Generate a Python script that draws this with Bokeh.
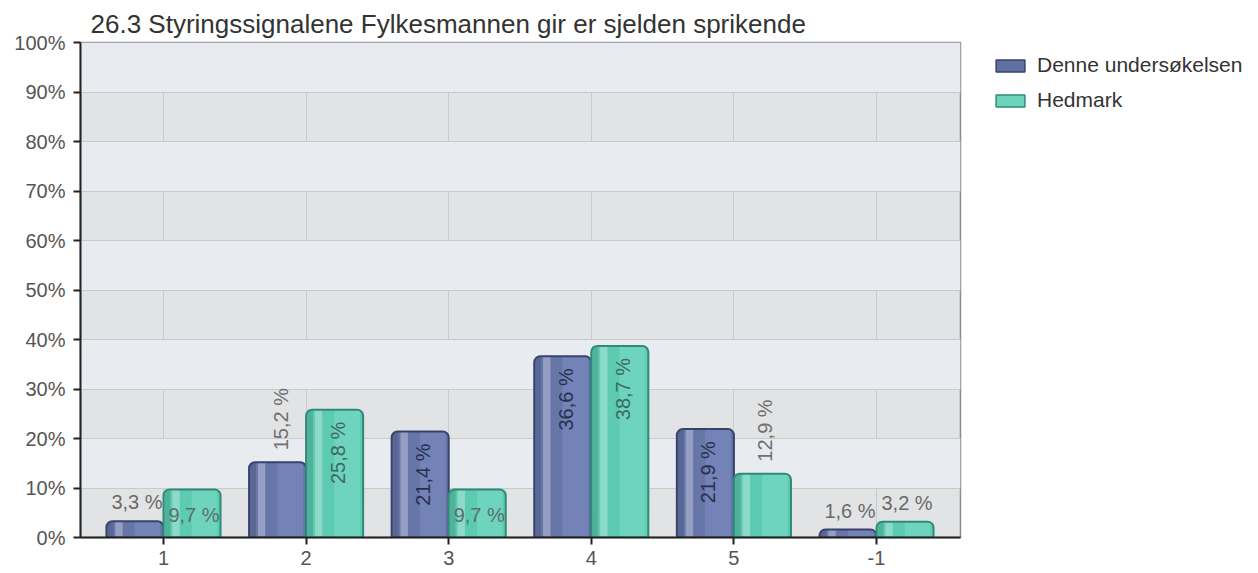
import math
from bokeh.plotting import figure
from bokeh.layouts import row
from bokeh.models import ColumnDataSource, FixedTicker, PrintfTickFormatter, Legend, LegendItem, Range1d
from bokeh.transform import dodge
from bokeh.core.properties import value
from bokeh.embed import file_html
from bokeh.resources import INLINE

# ---------------- data ----------------
title_text = "26.3 Styringssignalene Fylkesmannen gir er sjelden sprikende"
categories = ["1", "2", "3", "4", "5", "-1"]
denne = [3.3, 15.2, 21.4, 36.6, 21.9, 1.6]
hedmark = [9.7, 25.8, 9.7, 38.7, 12.9, 3.2]
series_names = ["Denne undersøkelsen", "Hedmark"]
y_ticks = [0, 10, 20, 30, 40, 50, 60, 70, 80, 90, 100]

FONT = "Liberation Sans"

p = figure(width=962, height=573, output_backend="svg", toolbar_location=None,
           x_range=Range1d(-0.582, 5.589), y_range=Range1d(0, 100),
           min_border_left=80, min_border_right=2, min_border_top=42, min_border_bottom=36,
           title=title_text)

p.title.text_font = FONT
p.title.text_font_size = "26px"
p.title.text_font_style = "normal"
p.title.text_color = "#333333"
p.title.offset = 10
p.title.standoff = 7

p.background_fill_color = "#e2e3e4"
p.border_fill_color = "white"
p.outline_line_color = "#8c8c8c"
p.outline_line_width = 1.5

# grid
p.xgrid.ticker = FixedTicker(ticks=list(range(len(categories))))
p.ygrid.ticker = FixedTicker(ticks=y_ticks)
p.xgrid.grid_line_color = "#c8cbce"
p.ygrid.grid_line_color = "#c8cbce"
p.ygrid.band_fill_color = "#e8ebef"
p.ygrid.band_fill_alpha = 1.0

# axes
p.xaxis.ticker = FixedTicker(ticks=list(range(len(categories))))
p.xaxis.major_label_overrides = {i: c for i, c in enumerate(categories)}
p.yaxis.ticker = FixedTicker(ticks=y_ticks)
p.yaxis.formatter = PrintfTickFormatter(format="%d%%")
for ax in (p.xaxis[0], p.yaxis[0]):
    ax.axis_line_color = "#222222"
    ax.axis_line_width = 2
    ax.major_tick_line_color = "#222222"
    ax.major_tick_line_width = 2
    ax.major_tick_out = 7
    ax.major_tick_in = 0
    ax.minor_tick_line_color = None
    ax.major_label_text_font = FONT
    ax.major_label_text_font_size = "20px"
    ax.major_label_text_color = "#555555"
p.yaxis.major_label_standoff = 8
p.xaxis.major_label_standoff = 6

# legend figure (right side)
pl = figure(width=296, height=573, output_backend="svg", toolbar_location=None,
            x_range=Range1d(0, 1), y_range=Range1d(0, 1), min_border=0)
pl.axis.visible = False
pl.grid.visible = False
pl.outline_line_color = None
pl.background_fill_color = "white"
pl.border_fill_color = "white"

# ---------------- bars ----------------
idx = list(range(len(categories)))
bar_w = 0.4
series = [
    dict(vals=denne, off=-0.2, fill="#6676a9", line="#38436b", light="#8b9ad0",
         swatch="#62709f", inside="#28304d"),
    dict(vals=hedmark, off=0.2, fill="#5ccbb1", line="#2e8b78", light="#8ee6d3",
         swatch="#6cd4bb", inside="#3c6a61"),
]

legend_items = []
for s, name in zip(series, series_names):
    src = ColumnDataSource(dict(x=idx, top=s["vals"]))
    p.vbar(x=dodge("x", s["off"], range=p.x_range), top="top", bottom=0, width=bar_w,
           source=src, fill_color=s["fill"], line_color=None, border_radius=(6, 6, 0, 0))
    # darker left edge
    p.vbar(x=dodge("x", s["off"] - bar_w * 0.43, range=p.x_range), top="top", bottom=0,
           width=bar_w * 0.1, source=src, fill_color="black", fill_alpha=0.12, line_color=None)
    # highlight stripe
    p.vbar(x=dodge("x", s["off"] - bar_w * 0.28, range=p.x_range), top="top", bottom=0,
           width=bar_w * 0.13, source=src, fill_color="white", fill_alpha=0.3, line_color=None)
    # lighter right side
    p.vbar(x=dodge("x", s["off"] + bar_w * 0.22, range=p.x_range), top="top", bottom=0,
           width=bar_w * 0.45, source=src, fill_color=s["light"], fill_alpha=0.35, line_color=None)
    # outline
    p.vbar(x=dodge("x", s["off"], range=p.x_range), top="top", bottom=0, width=bar_w,
           source=src, fill_color=None, line_color=s["line"], line_width=2,
           border_radius=(6, 6, 0, 0))
    # legend swatch renderer (NaN data: nothing drawn in the plot area)
    sw = pl.vbar(x=[float("nan")], top=[float("nan")], bottom=[float("nan")], width=0.1,
                 fill_color=s["swatch"], line_color=s["line"], line_width=1.5)
    legend_items.append(LegendItem(label=name, renderers=[sw]))

    # labels
    groups = {"rot_in": [], "rot_above": [], "h_in": [], "h_above": []}
    for i, v in zip(idx, s["vals"]):
        txt = f"{v:.1f} %".replace(".", ",")
        if v >= 20:
            groups["rot_in"].append((i, v, txt))
        elif v >= 10:
            groups["rot_above"].append((i, v, txt))
        elif v >= 5:
            groups["h_in"].append((i, v, txt))
        else:
            groups["h_above"].append((i, v, txt))
    styles = {
        "rot_in": dict(angle=math.pi / 2, text_align="right", text_baseline="middle",
                       x_offset=3, y_offset=12, text_color=s["inside"]),
        "rot_above": dict(angle=math.pi / 2, text_align="left", text_baseline="middle",
                          x_offset=3, y_offset=-12, text_color="#707070"),
        "h_in": dict(angle=0, text_align="center", text_baseline="middle",
                     x_offset=2, y_offset=26, text_color="#5b6f6b"),
        "h_above": dict(angle=0, text_align="center", text_baseline="middle",
                        x_offset=2, y_offset=-19, text_color="#6a6a6a"),
    }
    for k, rows in groups.items():
        if not rows:
            continue
        lsrc = ColumnDataSource(dict(x=[r[0] for r in rows], y=[r[1] for r in rows],
                                     t=[r[2] for r in rows]))
        p.text(x=dodge("x", s["off"], range=p.x_range), y="y", text="t", source=lsrc,
               text_font=value(FONT), text_font_size="20px", **styles[k])

legend = Legend(items=legend_items, location=(30, 425))
legend.label_text_font = FONT
legend.label_text_font_size = "21px"
legend.label_text_color = "#333333"
legend.glyph_width = 36
legend.glyph_height = 15
legend.label_standoff = 9
legend.spacing = 11
legend.padding = 0
legend.margin = 0
legend.border_line_color = None
legend.background_fill_alpha = 0
pl.add_layout(legend)

layout = row(p, pl, spacing=0)
open("out.html", "w").write(file_html(layout, INLINE))
